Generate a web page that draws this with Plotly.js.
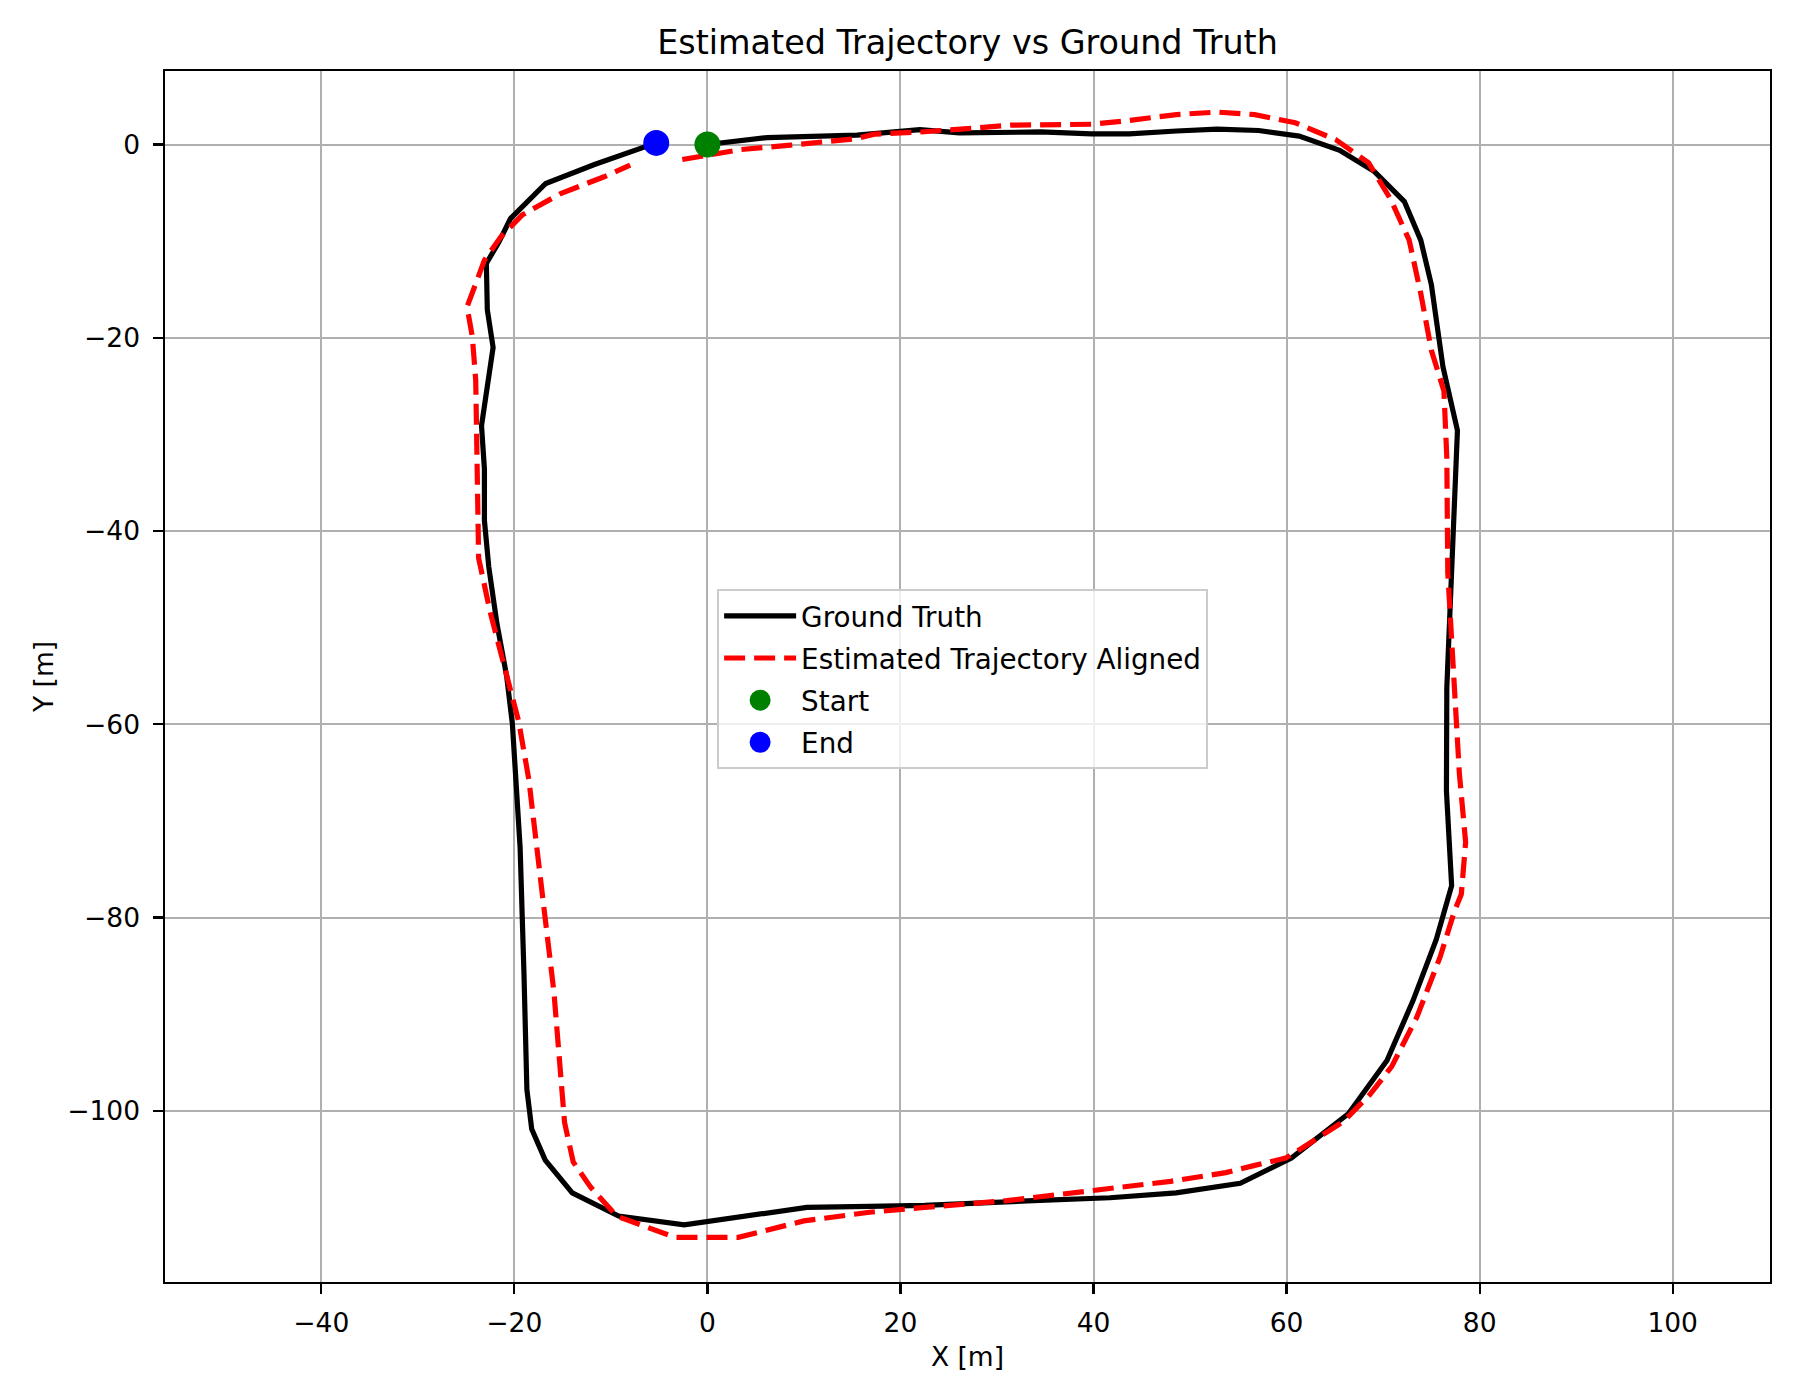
<!DOCTYPE html>
<html>
<head>
<meta charset="utf-8">
<script src="https://cdn.plot.ly/plotly-3.0.1.min.js"></script>
<style>
  html, body { margin: 0; padding: 0; background: #fff; }
  #chart { width: 1800px; height: 1400px; }
</style>
</head>
<body>
<div id="chart"></div>
<script>
// ground truth path (x, y in metres)
const gtX = [0, 6.2, 15.5, 22.0, 26.1, 34.5, 39.8, 43.7, 48.6, 52.8, 57.1, 61.3, 65.5, 69.1,
  72.2, 73.9, 75.0, 76.2, 77.7, 77.25, 76.9, 76.6, 76.56, 77.1, 75.5, 73.1, 70.4, 66.4,
  60.5, 55.2, 48.55, 41.7, 33.8, 22.5, 16.8, 10.3, -2.4, -9.2, -14.0, -16.8, -18.2, -18.7,
  -19.0, -19.4, -20.2, -20.8, -21.8, -22.65, -23.1, -23.1, -23.4, -22.2, -22.8, -22.9,
  -21.6, -20.4, -16.75, -11.7, -5.3];
const gtY = [0, 0.72, 0.97, 1.55, 1.2, 1.3, 1.1, 1.1, 1.4, 1.6, 1.45, 0.87, -0.6, -2.8,
  -5.9, -9.9, -14.5, -23.0, -29.6, -41.3, -48.4, -56.2, -66.9, -76.7, -82.3, -88.6, -94.8, -100.3,
  -104.9, -107.5, -108.5, -109.0, -109.3, -109.8, -109.9, -110.0, -111.8, -110.9, -108.5, -105.1, -101.9, -97.8,
  -85.9, -72.8, -60.0, -55.0, -49.6, -43.7, -38.9, -33.6, -29.1, -21.0, -17.1, -12.3,
  -10.1, -7.66, -4.03, -2.07, 0.17];

// estimated trajectory after alignment
const estX = [-2.6, 0, 3.45, 8.6, 15.5, 17.3, 22.1, 27.6, 31.4, 39.8, 42.9, 48.6, 52.8, 56.7,
  60.9, 65.1, 68.5, 70.8, 72.7, 73.9, 75.0, 76.3, 76.6, 76.7, 77.25, 77.9, 78.55, 78.1, 77.4,
  75.9, 73.5, 70.9, 68.65, 65.9, 61.7, 59.9, 56.5, 53.7, 48.0, 39.5, 31.0, 22.5, 16.8, 9.98,
  3.2, -3.35, -9.4, -12.1, -13.9, -14.8, -15.9, -17.1, -18.5, -19.55, -20.8, -22.5, -23.7,
  -23.8, -23.85, -24.0, -24.35, -24.9, -24.0, -23.1, -21.4, -19.2, -15.2, -10.7, -8.0];
const estY = [-1.55, -1.1, -0.52, -0.07, 0.62, 1.07, 1.3, 1.7, 2.0, 2.1, 2.4, 3.1, 3.36, 3.1,
  2.25, 0.5, -1.9, -5.7, -9.9, -15.4, -21.3, -25.5, -32.4, -44.3, -55.0, -65.1, -72.2, -77.6, -79.3,
  -84.1, -90.3, -95.4, -98.3, -101.1, -103.8, -104.9, -105.7, -106.4, -107.3, -108.3, -109.3, -110.0, -110.5, -111.4,
  -113.1, -113.1, -110.9, -107.9, -105.3, -101.2, -87.7, -77.6, -65.7, -59.7, -55.0, -48.4, -42.8,
  -37.1, -32.4, -24.4, -19.9, -16.8, -14.4, -11.97, -9.55, -7.3, -5.07, -3.34, -2.14];

const startPt = [0, 0];
const endPt = [-5.3, 0.17];

const font = 'DejaVu Sans, Liberation Sans, sans-serif';

// each trace in its own legend group so tracegroupgap spaces the rows like matplotlib
const traces = [
  {
    type: 'scatter', mode: 'lines', name: 'Ground Truth', legendgroup: 'gt',
    x: gtX, y: gtY,
    line: { color: '#000000', width: 5.2 },
  },
  {
    type: 'scatter', mode: 'lines', name: 'Estimated Trajectory Aligned', legendgroup: 'est',
    x: estX, y: estY,
    line: { color: '#ff0000', width: 5.2, dash: '21px,9px' },
  },
  {
    type: 'scatter', mode: 'markers', name: 'Start', legendgroup: 'start',
    x: [startPt[0]], y: [startPt[1]],
    marker: { color: '#008000', size: 21, line: { color: '#008000', width: 5 } },
  },
  {
    type: 'scatter', mode: 'markers', name: 'End', legendgroup: 'end',
    x: [endPt[0]], y: [endPt[1]],
    marker: { color: '#0000ff', size: 21, line: { color: '#0000ff', width: 5 } },
  },
];

const axisCommon = {
  showline: true, mirror: true, linecolor: '#000', linewidth: 2.2,
  showgrid: true, gridcolor: '#b0b0b0', gridwidth: 2,
  zeroline: false,
  ticks: 'outside', ticklen: 9.5, tickwidth: 2.2, tickcolor: '#000',
  tickfont: { family: font, size: 26.5, color: '#000' },
  dtick: 20,
};

const layout = {
  width: 1800, height: 1400,
  paper_bgcolor: '#fff', plot_bgcolor: '#fff',
  margin: { l: 165, r: 30, t: 71, b: 118, pad: 0 },
  font: { family: font, color: '#000' },
  title: {
    text: 'Estimated Trajectory vs Ground Truth',
    font: { family: font, size: 33.4, color: '#000' },
    x: 0.5, xref: 'paper', xanchor: 'center',
    y: 1 - 42.5 / 1400, yref: 'container', yanchor: 'middle',
  },
  xaxis: Object.assign({}, axisCommon, {
    range: [-56.19, 110.08],
    tick0: 0,
    ticklabelstandoff: 6,
    title: { text: 'X [m]', font: { family: font, size: 26.5 }, standoff: 11 },
  }),
  yaxis: Object.assign({}, axisCommon, {
    range: [-117.72, 7.61],
    tick0: 0,
    ticklabelstandoff: 8,
    title: { text: 'Y [m]', font: { family: font, size: 26.5 }, standoff: 6 },
  }),
  showlegend: true,
  legend: {
    x: 0.344, y: 0.572, xanchor: 'left', yanchor: 'top',
    bgcolor: 'rgba(255,255,255,0.8)', bordercolor: '#cccccc', borderwidth: 2,
    font: { family: font, size: 27.8, color: '#000' },
    itemwidth: 72,
    tracegroupgap: 3,
  },
};

Plotly.newPlot('chart', traces, layout, { displayModeBar: false, staticPlot: true });
</script>
</body>
</html>
